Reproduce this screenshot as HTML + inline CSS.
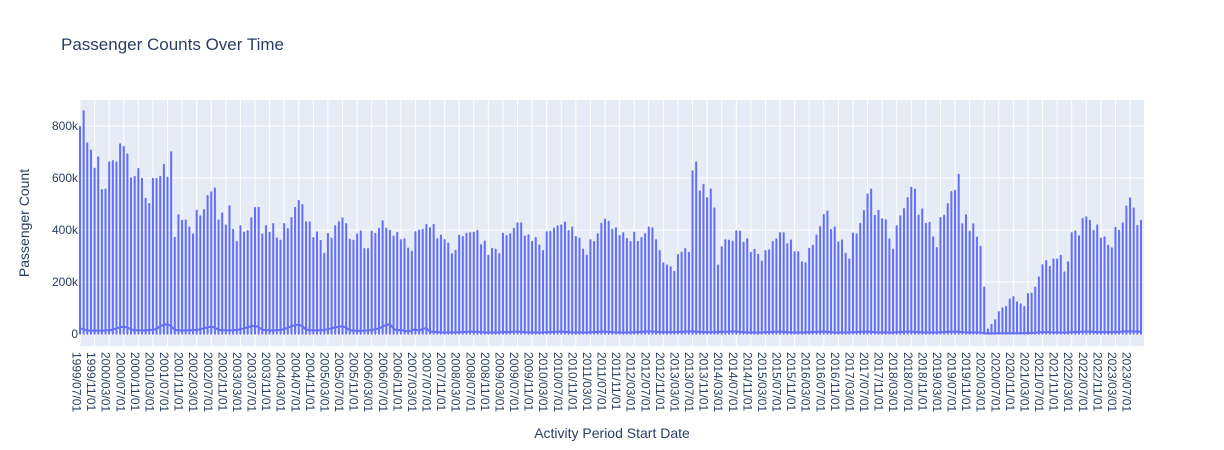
<!DOCTYPE html>
<html><head><meta charset="utf-8"><style>
body{margin:0;background:#fff;}
svg{display:block;font-family:"Liberation Sans",Arial,sans-serif;}
</style></head><body>
<svg id="chart" width="1224" height="450" viewBox="0 0 1224 450">
<rect x="0" y="0" width="1224" height="450" fill="#fff"/>
<rect x="80" y="100" width="1064" height="246" fill="#E5ECF6"/>
<g id="grid"></g>
<g id="series"></g>
<g id="yticks"></g>
<g id="xticks"></g>
<text x="61" y="50" font-size="17" fill="#2a3f5f">Passenger Counts Over Time</text>
<text transform="translate(29,223) rotate(-90)" text-anchor="middle" font-size="14" fill="#2a3f5f">Passenger Count</text>
<text x="612" y="438" text-anchor="middle" font-size="14" fill="#2a3f5f">Activity Period Start Date</text>
</svg>
<script>
const peaks = [797,857,733,706,636,680,554,556,660,665,660,730,719,691,599,605,635,597,520,500,597,597,605,651,602,699,370,457,436,437,410,383,474,453,477,531,545,560,437,464,418,492,401,354,415,390,396,445,485,485,383,415,390,423,368,359,423,404,446,485,512,496,430,430,369,391,358,309,385,367,415,430,445,423,363,359,383,
395,327,327,394,385,405,434,406,397,375,389,361,365,329,317,392,398,401,419,407,420,365,379,361,348,307,320,378,373,386,388,390,397,342,356,301,328,325,307,386,377,384,405,426,426,375,380,355,369,341,319,392,393,406,415,418,429,396,410,373,367,325,302,361,354,384,424,440,432,401,407,377,388,366,354,390,355,369,384,410,407,
361,319,272,264,257,239,304,313,327,312,626,660,549,574,523,556,483,264,334,361,359,356,395,394,351,365,312,324,305,279,319,322,354,364,388,388,345,360,315,315,276,272,328,340,379,412,458,471,400,410,353,360,309,287,387,383,424,473,537,556,455,474,442,438,364,325,415,453,481,523,563,556,456,480,424,428,372,331,446,455,
500,546,551,613,422,457,394,422,371,336,179,18,35,53,84,99,105,133,142,122,114,104,154,156,179,218,265,281,258,287,287,301,237,276,388,395,376,443,449,436,397,418,367,372,340,330,409,397,426,491,522,483,416,436];
const lows = [22,18,14,13,13,13,13,14,15,17,22,26,
28,25,18,15,14,14,14,15,16,20,30,35,
38,30,16,14,14,14,14,15,16,18,22,26,
28,24,16,15,14,14,15,16,18,22,26,30,
32,26,16,15,14,14,15,16,19,24,30,34,
36,30,17,15,14,14,15,16,18,22,26,28,
30,24,15,13,13,12,13,14,16,18,22,28,
35,38,20,14,16,12,10,14,18,12,20,22,
9,8,7,6,6,6,6,6,7,7,8,9,
9,8,7,6,6,6,6,6,7,7,8,9,
9,8,7,6,6,6,6,6,7,7,8,9,
9,8,7,6,6,6,6,6,7,7,8,9,
9,8,7,6,6,6,6,6,7,7,8,9,
10,9,8,7,7,7,7,7,8,8,9,10,
10,9,8,7,7,7,7,7,8,8,9,10,
9,8,7,6,6,6,6,6,7,7,8,9,
9,8,7,6,6,6,6,6,7,7,8,9,
9,8,7,6,6,6,6,6,7,7,8,9,
9,8,7,6,6,6,6,6,7,7,8,9,
9,8,7,6,6,6,6,6,7,7,8,9,
9,8,7,6,6,6,6,6,3,2,2,3,
3,3,3,3,3,3,3,3,4,4,5,6,
7,7,7,6,6,6,6,6,7,7,8,9,
9,9,8,7,7,7,7,7,8,8,9,10,
10,10,9,9];
const yTicks = [0,200,400,600,800];
const yTickLabels = ["0","200k","400k","600k","800k"];
const startYear = 1999, startMonth = 7;

const NS = "http://www.w3.org/2000/svg";
const X0 = 80, DX = 3.646;
const xs = i => X0 + i * DX;
const ys = v => 334 - v * 52 / 200;
function mk(tag, attrs, parent){const e=document.createElementNS(NS,tag);for(const k in attrs)e.setAttribute(k,attrs[k]);parent.appendChild(e);return e;}

const grid = document.getElementById('grid');
const yt = document.getElementById('yticks');
const xt = document.getElementById('xticks');
const ser = document.getElementById('series');

yTicks.forEach((v,k)=>{
  const l = mk('line',{x1:80,x2:1144,y1:ys(v),y2:ys(v),stroke:'#fff','stroke-width':1},grid);
  
  
  const t = mk('text',{x:78,y:ys(v)+4,'text-anchor':'end','font-size':12,fill:'#2a3f5f'},yt);
  t.textContent = yTickLabels[k];
  
  
});

for(let i=0;i<peaks.length;i+=4){
  const m0 = startMonth-1+i;
  const yr = startYear + Math.floor(m0/12);
  const mo = (m0%12)+1;
  const lbl = yr + '/' + String(mo).padStart(2,'0') + '/01';
  const x = xs(i);
  const l = mk('line',{x1:x,x2:x,y1:100,y2:346,stroke:'#fff','stroke-width':1},grid);
  
  
  const t = mk('text',{transform:`translate(${x-3.5},352) rotate(90)`,'font-size':12,fill:'#2a3f5f','dominant-baseline':'central'},xt);
  t.textContent = lbl;
  
  
}

let d = '';
for(let i=0;i<peaks.length;i++){
  const x = xs(i).toFixed(2);
  const lo = lows[i] !== undefined ? lows[i] : 8;
  d += (i===0?'M':'L') + x + ',' + ys(lo).toFixed(2);
  d += 'L' + x + ',' + ys(1).toFixed(2);
  d += 'L' + x + ',' + ys(peaks[i]).toFixed(2);
  d += 'L' + x + ',' + ys(1).toFixed(2);
  d += 'L' + x + ',' + ys(lo).toFixed(2);
}
const p = mk('path',{d:d,fill:'none',stroke:'#636efa','stroke-width':2,'stroke-linejoin':'round'},ser);


</script>
</body></html>
